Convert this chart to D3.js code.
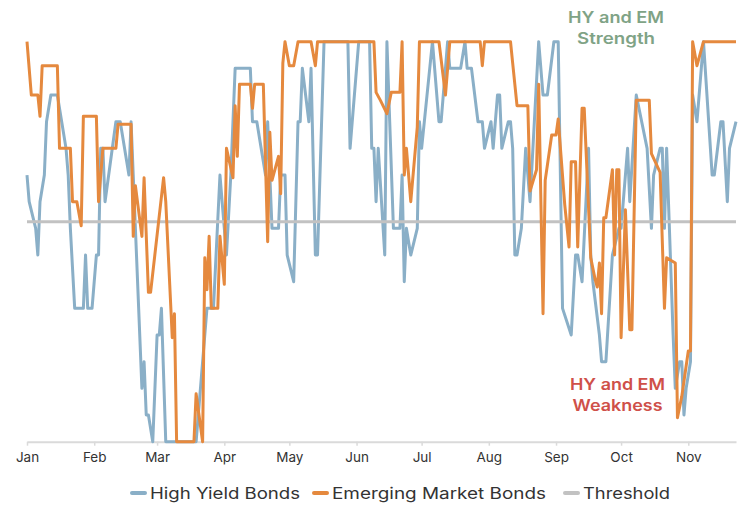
<!DOCTYPE html>
<html><head><meta charset="utf-8">
<script src="https://cdn.jsdelivr.net/npm/d3@7/dist/d3.min.js"></script>
<style>body{margin:0;background:#fff} svg{display:block}</style>
</head><body><svg id="c" width="744" height="506"></svg>
<script>
// ---- data ----
const startDate = "2020-01-01";
const endDate = "2020-11-23";
const monthLabels = ["Jan","Feb","Mar","Apr","May","Jun","Jul","Aug","Sep","Oct","Nov"];
const seriesNames = ["High Yield Bonds","Emerging Market Bonds","Threshold"];
const scoreMax = 15;
const threshold = 8.25;
// days since startDate
const hyDays = [0,1,4,5,6,8,9,11,14,16,18,19,20,22,26,27,28,30,32,33,34,35,36,41,43,47,48,49,53,54,55,56,58,60,61,62,64,78,83,86,89,92,94,96,103,104,106,110,111,113,116,117,119,120,123,125,126,127,130,131,133,134,137,148,149,153,158,159,160,161,162,165,166,169,172,173,174,175,177,180,181,182,187,190,191,194,195,200,202,203,205,208,210,211,214,215,217,218,219,222,223,224,225,226,228,230,232,234,236,238,240,243,245,247,251,253,254,256,259,260,261,264,265,267,270,273,274,277,278,281,286,288,289,292,293,294,295,298,299,301,302,303,304,306,307,309,312,316,317,320,321,323,324,327];
const hyScores = [10,9,8,7,9,10,12,13,13,12,11,10,8,5,5,7,5,5,7,7,11,11,9,12,12,10,12,10,2,3,1,1,0,4,4,5,0,0,5,5,10,7,10,14,14,12,12,10,12,8,8,10,10,7,6,12,12,14,12,14,7,7,15,15,11,15,15,11,11,9,11,7,15,8,8,10,6,8,7,8,12,11,15,12,12,15,14,14,15,14,14,12,12,11,12,11,13,13,11,12,12,11,7,7,8,11,9,12,15,13,13,15,15,5,4,7,7,6,11,7,6,4,3,3,7,8,8,11,9,13,11,8,10,11,11,8,11,4,2,3,3,1,2,3,13,12,15,10,10,12,12,9,11,12];
const emDays = [0,2,5,6,7,14,15,20,21,23,25,26,32,33,35,41,42,48,49,50,53,54,56,57,63,64,67,68,69,77,78,81,82,83,84,85,88,89,91,92,95,96,97,98,103,104,105,109,111,112,113,116,117,118,119,121,123,125,131,133,134,160,161,163,166,168,172,173,174,175,177,180,181,190,193,195,209,210,211,223,224,226,231,232,235,236,238,239,242,244,245,248,250,251,253,254,256,257,260,262,263,264,265,266,267,270,271,272,273,274,276,278,279,281,287,288,292,294,295,299,300,302,305,306,307,309,312,327];
const emScores = [15,13,13,12.2,14.1,14.1,11,11,9,9,8.1,12.2,12.2,9,11,11,11.9,11.9,7.7,9.6,7.7,9.9,5.6,5.6,9.9,9,3.9,4.8,0,0,1.8,0,6.9,5.7,7.7,5,5,7.7,5.9,11,9.9,12.6,10.7,13.4,13.4,12.5,13.4,13.4,7.5,11.6,9.8,10.7,9.3,14.2,15,14.1,14.1,15,15,14.1,15,15,13.1,12.8,12.3,13.1,13.1,15,10,11,9,11.8,15,15,13,15,15,14.1,15,15,14.2,12.6,12.6,9.4,10.2,13.4,4.8,9.8,11.5,11.5,12.1,8.9,7.3,10.5,10.5,7.3,12.5,12.5,6.9,6.1,5.8,6.7,4.8,8.4,8.4,10.2,7,10.2,10.2,3.9,8.7,4.2,4.2,12.8,12.8,10.8,10.1,5,6.9,6.7,0.9,1.7,3.4,3.4,15,14.1,15,15];
const noteStrength = ["HY and EM","Strength"];
const noteWeakness = ["HY and EM","Weakness"];
const colors = ["#8aafc7","#e5893e","#c2c2c2"];

// ---- chart ----
const font = "Inter, 'Open Sans', sans-serif";
const svg = d3.select("#c");
const parse = d3.timeParse("%Y-%m-%d");
const t0 = parse(startDate), t1 = parse(endDate);
const x = d3.scaleTime().domain([t0, t1]).range([27, 736]);
const y = d3.scaleLinear().domain([0, scoreMax]).range([441.7, 41.7]);

const toPts = (days, vals) => days.map((d, i) => ({date: d3.timeDay.offset(t0, d), v: vals[i]}));
const hy = toPts(hyDays, hyScores);
const em = toPts(emDays, emScores);

// x axis
const ax = svg.append("g").attr("transform", `translate(0,${y(0)})`)
  .call(d3.axisBottom(x).ticks(d3.timeMonth.every(1))
    .tickFormat(d => monthLabels[d.getMonth()])
    .tickSize(4).tickSizeOuter(0).tickPadding(7));
ax.select(".domain").attr("stroke", "#dadada").attr("stroke-width", 2);
ax.selectAll(".tick line").attr("stroke", "#dadada").attr("stroke-width", 1.5);
ax.selectAll(".tick text").attr("fill", "#333").style("font-family", font).style("font-size", "13.5px");

const line = d3.line().x(d => x(d.date)).y(d => y(d.v));

svg.append("path").datum(hy).attr("d", line)
  .attr("fill", "none").attr("stroke", colors[0]).attr("stroke-width", 3).attr("stroke-linejoin", "round");
svg.append("path").datum([{date: t0, v: threshold}, {date: t1, v: threshold}]).attr("d", line)
  .attr("fill", "none").attr("stroke", colors[2]).attr("stroke-width", 3);
svg.append("path").datum(em).attr("d", line)
  .attr("fill", "none").attr("stroke", colors[1]).attr("stroke-width", 3).attr("stroke-linejoin", "round");

// annotations
function note(lines, widths, cx, cy, col) {
  lines.forEach((s, i) => svg.append("text").attr("text-anchor", "middle").attr("fill", col)
    .attr("x", cx).attr("y", cy + i * 20.5)
    .attr("textLength", widths[i]).attr("lengthAdjust", "spacingAndGlyphs")
    .style("font-family", font).style("font-size", "16px").style("font-weight", 600).text(s));
}
note(noteStrength, [96, 78], 616, 23, "#7fa386");
note(noteWeakness, [95, 90], 617.5, 390, "#cf5049");

// legend
const legendX = [130, 312, 563];
const legendW = [150, 214, 87];
seriesNames.forEach((name, i) => {
  const g = svg.append("g").attr("transform", `translate(${legendX[i]},493)`);
  g.append("line").attr("x1", 2).attr("x2", 15).attr("y1", 0).attr("y2", 0)
    .attr("stroke", colors[i]).attr("stroke-width", 4).attr("stroke-linecap", "round");
  g.append("text").attr("x", 20).attr("y", 5.8).attr("fill", "#333")
    .attr("textLength", legendW[i]).attr("lengthAdjust", "spacingAndGlyphs")
    .style("font-family", font).style("font-size", "16px").text(name);
});
</script></body></html>
